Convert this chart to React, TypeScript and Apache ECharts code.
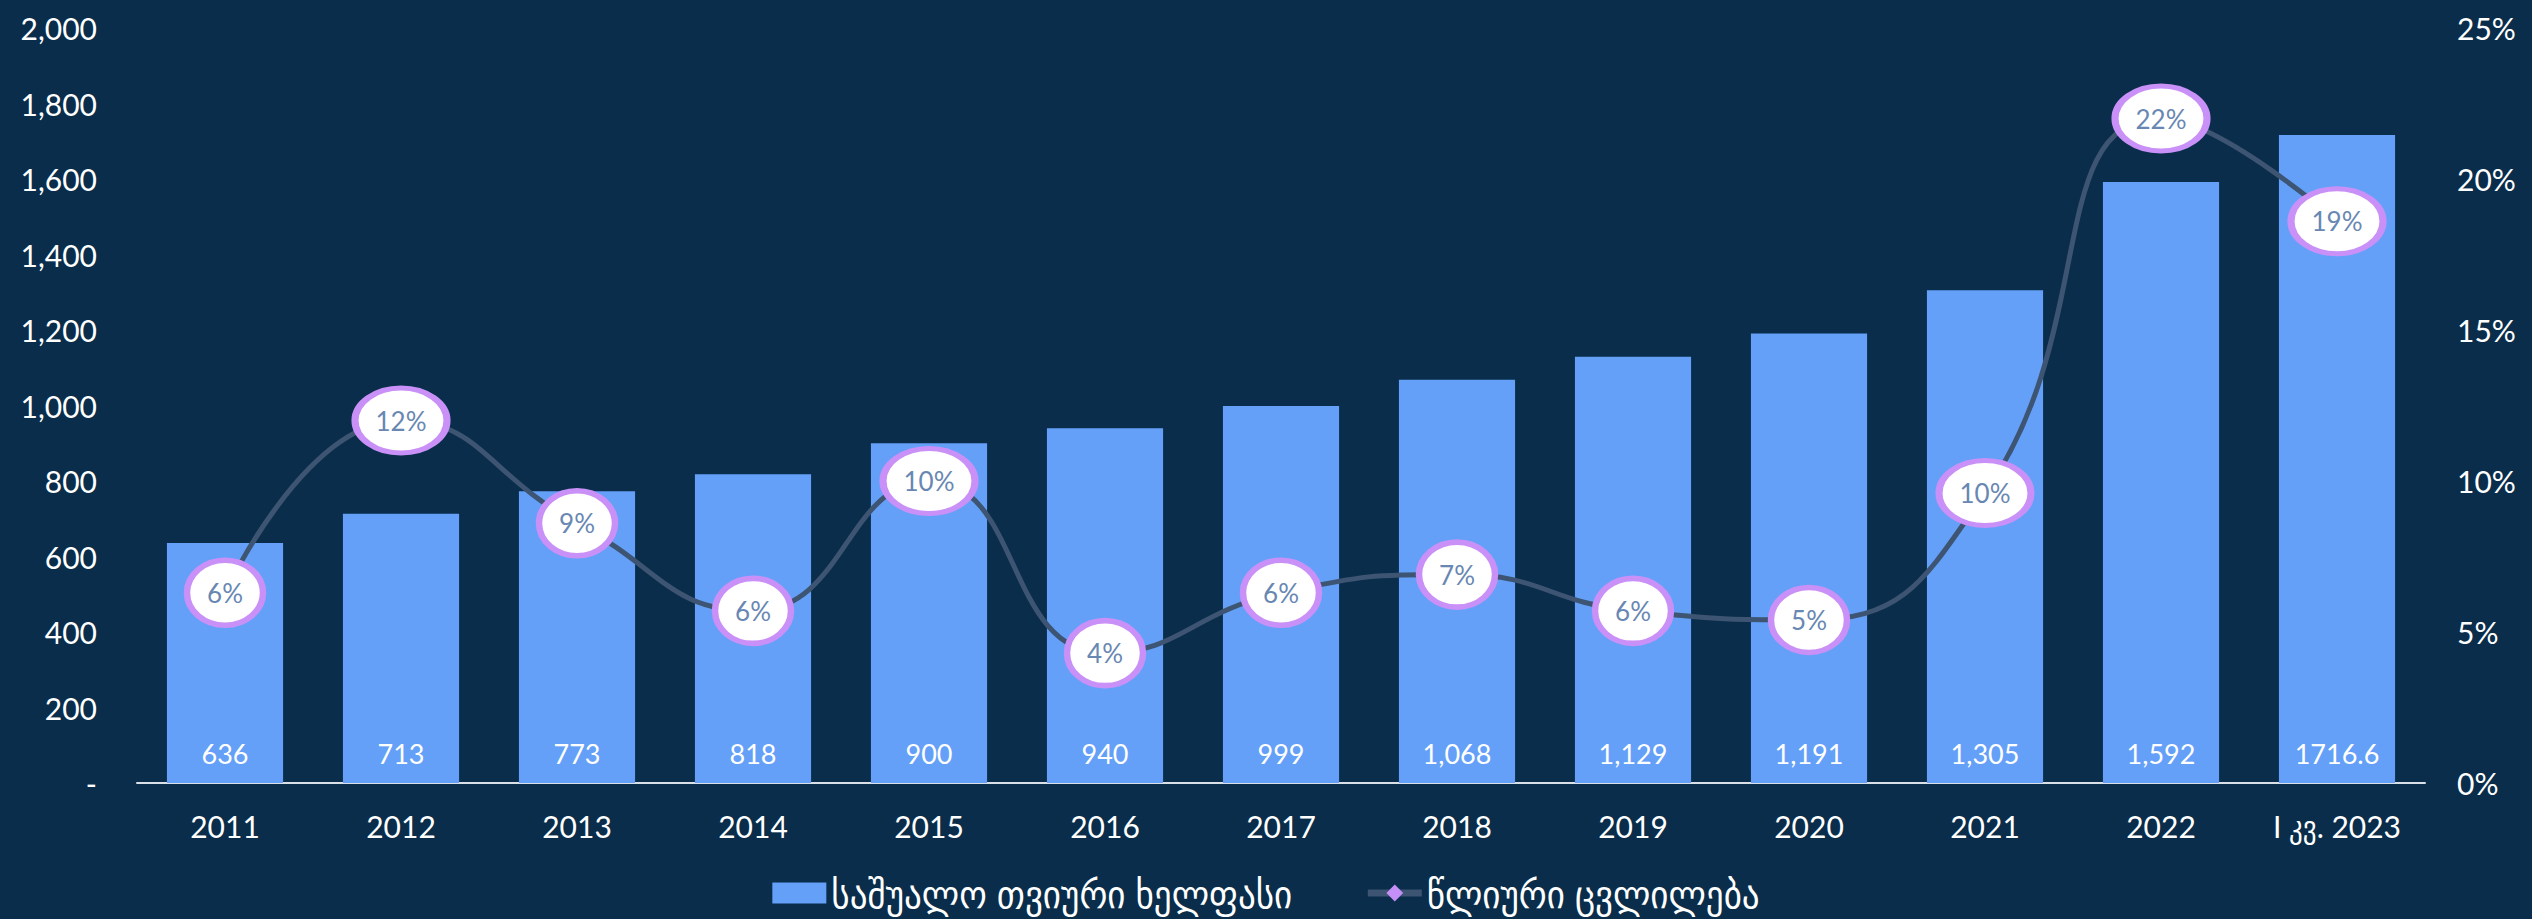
import React, { useEffect, useRef } from "react";
import * as echarts from "echarts";

const categories = ["2011", "2012", "2013", "2014", "2015", "2016", "2017", "2018", "2019", "2020", "2021", "2022", "I კვ. 2023"];
const salary = [636, 713, 773, 818, 900, 940, 999, 1068, 1129, 1191, 1305, 1592, 1716.6];
const growth = [6.3, 12.0, 8.6, 5.7, 10.0, 4.3, 6.3, 6.9, 5.7, 5.4, 9.6, 22.0, 18.6];
const salaryName = "საშუალო თვიური ხელფასი";
const growthName = "წლიური ცვლილება";

const FONT = 'Lato, "DejaVu Sans Condensed", "DejaVu Sans", sans-serif';
const ELLIPSE = "path://M0,50 A50,50 0 1,1 100,50 A50,50 0 1,1 0,50 Z";

export default function App() {
  const ref = useRef<HTMLDivElement>(null);
  useEffect(() => {
    document.body.style.margin = "0";
    const chart = echarts.init(ref.current!, null, { renderer: "svg" });
    const pct = (v: number) => Math.round(v) + "%";
    chart.setOption({
      animation: false,
      backgroundColor: "#092d4a",
      textStyle: { fontFamily: FONT },
      grid: { left: 137, right: 107, top: 28, bottom: 136, containLabel: false },
      legend: {
        left: "center",
        top: 868,
        itemWidth: 54,
        itemHeight: 21,
        itemGap: 72,
        lineStyle: { width: 7, color: "#3d5472" },
        textStyle: { color: "#ffffff", fontSize: 39, lineHeight: 40, fontFamily: FONT },
        data: [{ name: salaryName, icon: "rect" }, { name: growthName }],
      },
      xAxis: {
        type: "category",
        data: categories,
        axisLine: { lineStyle: { color: "#d9e0e8", width: 2 } },
        axisTick: { show: false },
        axisLabel: { color: "#ffffff", fontSize: 30, margin: 28, fontFamily: FONT },
      },
      yAxis: [
        {
          type: "value",
          min: 0,
          max: 2000,
          interval: 200,
          axisLine: { show: false },
          axisTick: { show: false },
          splitLine: { show: false },
          axisLabel: {
            color: "#ffffff",
            fontSize: 30,
            margin: 40,
            fontFamily: FONT,
            formatter: (v: number) => (v === 0 ? "-" : v.toLocaleString("en-US")),
          },
        },
        {
          type: "value",
          min: 0,
          max: 25,
          interval: 5,
          axisLine: { show: false },
          axisTick: { show: false },
          splitLine: { show: false },
          axisLabel: { color: "#ffffff", fontSize: 30, margin: 32, fontFamily: FONT, formatter: "{value}%" },
        },
      ],
      series: [
        {
          name: salaryName,
          type: "bar",
          data: salary,
          barWidth: "66%",
          z: 2,
          itemStyle: { color: "#64a0f8" },
          label: {
            show: true,
            position: "insideBottom",
            distance: 16,
            color: "#ffffff",
            fontSize: 27,
            fontFamily: FONT,
            formatter: (p: any) =>
              Number.isInteger(p.value) ? p.value.toLocaleString("en-US") : String(p.value),
          },
        },
        {
          name: growthName,
          type: "line",
          yAxisIndex: 1,
          data: growth,
          smooth: 0.5,
          z: 3,
          symbol: "diamond",
          symbolSize: [10, 18],
          lineStyle: { color: "#3d5472", width: 5 },
          itemStyle: { color: "#c48ff7" },
        },
        {
          name: "bubbles",
          type: "scatter",
          yAxisIndex: 1,
          data: growth,
          z: 4,
          symbol: ELLIPSE,
          symbolSize: (v: number) => (pct(v).length > 2 ? [92, 65] : [76, 65]),
          itemStyle: { color: "#ffffff", borderColor: "#c990f8", borderWidth: 6, opacity: 1 },
          label: {
            show: true,
            position: "inside",
            color: "#6887b2",
            fontSize: 26,
            fontFamily: FONT,
            formatter: (p: any) => pct(p.value),
          },
          emphasis: { disabled: true },
        },
      ],
    });
    return () => chart.dispose();
  }, []);
  return <div ref={ref} style={{ position: "fixed", left: 0, top: 0, width: 2532, height: 919 }} />;
}
